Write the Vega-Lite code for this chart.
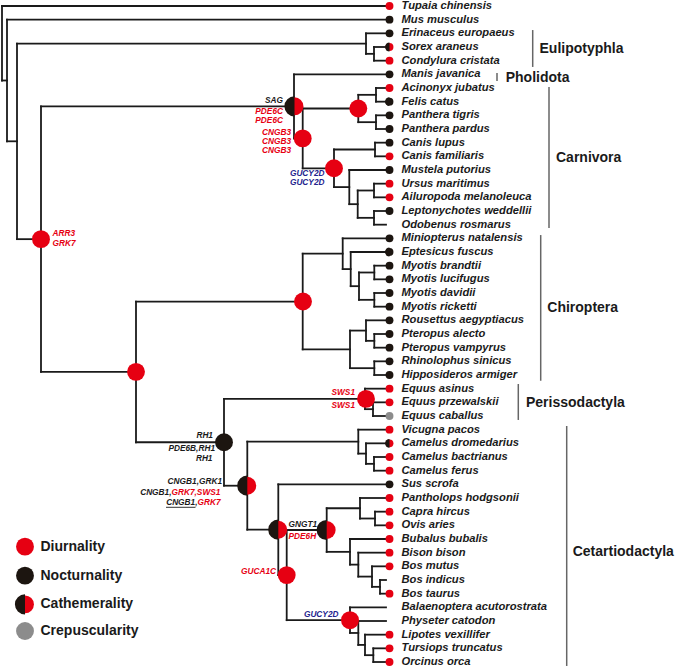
{
"$schema": "https://vega.github.io/schema/vega-lite/v6.json",
"width": 675, "height": 670, "padding": 0, "autosize": "none",
"background": "white",
"config": {"view": {"stroke": null}},
"datasets": {
"segs": [
{"x":2,"x2":2,"y":0,"y2":5.45},{"x":2,"x2":386,"y":0,"y2":0},{"x":2,"x2":7,"y":5.45,"y2":5.45},
{"x":7,"x2":7,"y":1,"y2":9.9},{"x":7,"x2":386,"y":1,"y2":1},{"x":7,"x2":17,"y":9.9,"y2":9.9},
{"x":17,"x2":17,"y":2.75,"y2":17.06},{"x":17,"x2":366,"y":2.75,"y2":2.75},{"x":17,"x2":41,"y":17.06,"y2":17.06},
{"x":366,"x2":366,"y":2,"y2":3.5},{"x":366,"x2":386,"y":2,"y2":2},{"x":366,"x2":374,"y":3.5,"y2":3.5},
{"x":374,"x2":374,"y":3,"y2":4},{"x":374,"x2":386,"y":3,"y2":3},{"x":374,"x2":386,"y":4,"y2":4},
{"x":41,"x2":41,"y":7.34,"y2":26.77},{"x":41,"x2":294,"y":7.34,"y2":7.34},{"x":41,"x2":136,"y":26.77,"y2":26.77},
{"x":294,"x2":294,"y":5,"y2":9.69},{"x":294,"x2":386,"y":5,"y2":5},{"x":294,"x2":302.7,"y":9.69,"y2":9.69},
{"x":302.7,"x2":302.7,"y":7.5,"y2":11.875},{"x":302.7,"x2":358.3,"y":7.5,"y2":7.5},{"x":302.7,"x2":334,"y":11.875,"y2":11.875},
{"x":358.3,"x2":358.3,"y":6.5,"y2":8.5},{"x":358.3,"x2":376,"y":6.5,"y2":6.5},{"x":358.3,"x2":376,"y":8.5,"y2":8.5},
{"x":376,"x2":376,"y":6,"y2":7},{"x":376,"x2":386,"y":6,"y2":6},{"x":376,"x2":386,"y":7,"y2":7},
{"x":376,"x2":376,"y":8,"y2":9},{"x":376,"x2":386,"y":8,"y2":8},{"x":376,"x2":386,"y":9,"y2":9},
{"x":334,"x2":334,"y":10.5,"y2":13.25},{"x":334,"x2":375,"y":10.5,"y2":10.5},{"x":334,"x2":349.3,"y":13.25,"y2":13.25},
{"x":375,"x2":375,"y":10,"y2":11},{"x":375,"x2":386,"y":10,"y2":10},{"x":375,"x2":386,"y":11,"y2":11},
{"x":349.3,"x2":349.3,"y":12,"y2":14.5},{"x":349.3,"x2":386,"y":12,"y2":12},{"x":349.3,"x2":357.7,"y":14.5,"y2":14.5},
{"x":357.7,"x2":357.7,"y":13.5,"y2":15.5},{"x":357.7,"x2":374,"y":13.5,"y2":13.5},{"x":357.7,"x2":374,"y":15.5,"y2":15.5},
{"x":374,"x2":374,"y":13,"y2":14},{"x":374,"x2":386,"y":13,"y2":13},{"x":374,"x2":386,"y":14,"y2":14},
{"x":374,"x2":374,"y":15,"y2":16},{"x":374,"x2":386,"y":15,"y2":15},{"x":374,"x2":386,"y":16,"y2":16},
{"x":136,"x2":136,"y":21.625,"y2":31.92},{"x":136,"x2":302.7,"y":21.625,"y2":21.625},{"x":136,"x2":224,"y":31.92,"y2":31.92},
{"x":302.7,"x2":302.7,"y":18.125,"y2":25.125},{"x":302.7,"x2":342.7,"y":18.125,"y2":18.125},{"x":302.7,"x2":350,"y":25.125,"y2":25.125},
{"x":342.7,"x2":342.7,"y":17,"y2":19.25},{"x":342.7,"x2":386,"y":17,"y2":17},{"x":342.7,"x2":350.7,"y":19.25,"y2":19.25},
{"x":350.7,"x2":350.7,"y":18,"y2":20.5},{"x":350.7,"x2":386,"y":18,"y2":18},{"x":350.7,"x2":359,"y":20.5,"y2":20.5},
{"x":359,"x2":359,"y":19.5,"y2":21.5},{"x":359,"x2":374.3,"y":19.5,"y2":19.5},{"x":359,"x2":374.3,"y":21.5,"y2":21.5},
{"x":374.3,"x2":374.3,"y":19,"y2":20},{"x":374.3,"x2":386,"y":19,"y2":19},{"x":374.3,"x2":386,"y":20,"y2":20},
{"x":374.3,"x2":374.3,"y":21,"y2":22},{"x":374.3,"x2":386,"y":21,"y2":21},{"x":374.3,"x2":386,"y":22,"y2":22},
{"x":350,"x2":350,"y":23.75,"y2":26.5},{"x":350,"x2":366,"y":23.75,"y2":23.75},{"x":350,"x2":374.3,"y":26.5,"y2":26.5},
{"x":366,"x2":366,"y":23,"y2":24.5},{"x":366,"x2":386,"y":23,"y2":23},{"x":366,"x2":374.3,"y":24.5,"y2":24.5},
{"x":374.3,"x2":374.3,"y":24,"y2":25},{"x":374.3,"x2":386,"y":24,"y2":24},{"x":374.3,"x2":386,"y":25,"y2":25},
{"x":374.3,"x2":374.3,"y":26,"y2":27},{"x":374.3,"x2":386,"y":26,"y2":26},{"x":374.3,"x2":386,"y":27,"y2":27},
{"x":224,"x2":224,"y":28.75,"y2":35.1},{"x":224,"x2":365,"y":28.75,"y2":28.75},{"x":224,"x2":247.3,"y":35.1,"y2":35.1},
{"x":365,"x2":365,"y":28,"y2":29.5},{"x":365,"x2":386,"y":28,"y2":28},{"x":365,"x2":373,"y":29.5,"y2":29.5},
{"x":373,"x2":373,"y":29,"y2":30},{"x":373,"x2":386,"y":29,"y2":29},{"x":373,"x2":386,"y":30,"y2":30},
{"x":247.3,"x2":247.3,"y":31.875,"y2":38.32},{"x":247.3,"x2":358.3,"y":31.875,"y2":31.875},{"x":247.3,"x2":278.3,"y":38.32,"y2":38.32},
{"x":358.3,"x2":358.3,"y":31,"y2":32.75},{"x":358.3,"x2":386,"y":31,"y2":31},{"x":358.3,"x2":366,"y":32.75,"y2":32.75},
{"x":366,"x2":366,"y":32,"y2":33.5},{"x":366,"x2":386,"y":32,"y2":32},{"x":366,"x2":374,"y":33.5,"y2":33.5},
{"x":374,"x2":374,"y":33,"y2":34},{"x":374,"x2":386,"y":33,"y2":33},{"x":374,"x2":386,"y":34,"y2":34},
{"x":278.3,"x2":278.3,"y":35,"y2":41.64},{"x":278.3,"x2":386,"y":35,"y2":35},{"x":278.3,"x2":286.7,"y":41.64,"y2":41.64},
{"x":286.7,"x2":286.7,"y":38.34,"y2":44.94},{"x":286.7,"x2":326.7,"y":38.34,"y2":38.34},{"x":286.7,"x2":350,"y":44.94,"y2":44.94},
{"x":326.7,"x2":326.7,"y":36.75,"y2":39.94},{"x":326.7,"x2":360,"y":36.75,"y2":36.75},{"x":326.7,"x2":350,"y":39.94,"y2":39.94},
{"x":360,"x2":360,"y":36,"y2":37.5},{"x":360,"x2":386,"y":36,"y2":36},{"x":360,"x2":375,"y":37.5,"y2":37.5},
{"x":375,"x2":375,"y":37,"y2":38},{"x":375,"x2":386,"y":37,"y2":37},{"x":375,"x2":386,"y":38,"y2":38},
{"x":350,"x2":350,"y":39,"y2":40.875},{"x":350,"x2":386,"y":39,"y2":39},{"x":350,"x2":358.3,"y":40.875,"y2":40.875},
{"x":358.3,"x2":358.3,"y":40,"y2":41.75},{"x":358.3,"x2":386,"y":40,"y2":40},{"x":358.3,"x2":372,"y":41.75,"y2":41.75},
{"x":372,"x2":372,"y":41,"y2":42.5},{"x":372,"x2":386,"y":41,"y2":41},{"x":372,"x2":380,"y":42.5,"y2":42.5},
{"x":380,"x2":380,"y":42,"y2":43},{"x":380,"x2":386,"y":42,"y2":42},{"x":380,"x2":386,"y":43,"y2":43},
{"x":350,"x2":350,"y":44,"y2":45.875},{"x":350,"x2":386,"y":44,"y2":44},{"x":350,"x2":358.3,"y":45.875,"y2":45.875},
{"x":358.3,"x2":358.3,"y":45,"y2":46.75},{"x":358.3,"x2":386,"y":45,"y2":45},{"x":358.3,"x2":365,"y":46.75,"y2":46.75},
{"x":365,"x2":365,"y":46,"y2":47.5},{"x":365,"x2":386,"y":46,"y2":46},{"x":365,"x2":373.3,"y":47.5,"y2":47.5},
{"x":373.3,"x2":373.3,"y":47,"y2":48},{"x":373.3,"x2":386,"y":47,"y2":47},{"x":373.3,"x2":386,"y":48,"y2":48}
],
"leaves": [
{"name":"Tupaia chinensis","row":0,"s":"D"},
{"name":"Mus musculus","row":1,"s":"N"},
{"name":"Erinaceus europaeus","row":2,"s":"N"},
{"name":"Sorex araneus","row":3,"s":"C"},
{"name":"Condylura cristata","row":4,"s":"C"},
{"name":"Manis javanica","row":5,"s":"N"},
{"name":"Acinonyx jubatus","row":6,"s":"D"},
{"name":"Felis catus","row":7,"s":"N"},
{"name":"Panthera tigris","row":8,"s":"N"},
{"name":"Panthera pardus","row":9,"s":"N"},
{"name":"Canis lupus","row":10,"s":"N"},
{"name":"Canis familiaris","row":11,"s":"C"},
{"name":"Mustela putorius","row":12,"s":"N"},
{"name":"Ursus maritimus","row":13,"s":"D"},
{"name":"Ailuropoda melanoleuca","row":14,"s":"C"},
{"name":"Leptonychotes weddellii","row":15,"s":"N"},
{"name":"Odobenus rosmarus","row":16,"s":"none"},
{"name":"Miniopterus natalensis","row":17,"s":"N"},
{"name":"Eptesicus fuscus","row":18,"s":"N"},
{"name":"Myotis brandtii","row":19,"s":"N"},
{"name":"Myotis lucifugus","row":20,"s":"N"},
{"name":"Myotis davidii","row":21,"s":"N"},
{"name":"Myotis ricketti","row":22,"s":"N"},
{"name":"Rousettus aegyptiacus","row":23,"s":"N"},
{"name":"Pteropus alecto","row":24,"s":"N"},
{"name":"Pteropus vampyrus","row":25,"s":"N"},
{"name":"Rhinolophus sinicus","row":26,"s":"N"},
{"name":"Hipposideros armiger","row":27,"s":"N"},
{"name":"Equus asinus","row":28,"s":"D"},
{"name":"Equus przewalskii","row":29,"s":"C"},
{"name":"Equus caballus","row":30,"s":"K"},
{"name":"Vicugna pacos","row":31,"s":"D"},
{"name":"Camelus dromedarius","row":32,"s":"D"},
{"name":"Camelus bactrianus","row":33,"s":"D"},
{"name":"Camelus ferus","row":34,"s":"D"},
{"name":"Sus scrofa","row":35,"s":"N"},
{"name":"Pantholops hodgsonii","row":36,"s":"D"},
{"name":"Capra hircus","row":37,"s":"D"},
{"name":"Ovis aries","row":38,"s":"D"},
{"name":"Bubalus bubalis","row":39,"s":"C"},
{"name":"Bison bison","row":40,"s":"D"},
{"name":"Bos mutus","row":41,"s":"D"},
{"name":"Bos indicus","row":42,"s":"none"},
{"name":"Bos taurus","row":43,"s":"D"},
{"name":"Balaenoptera acutorostrata","row":44,"s":"none"},
{"name":"Physeter catodon","row":45,"s":"none"},
{"name":"Lipotes vexillifer","row":46,"s":"D"},
{"name":"Tursiops truncatus","row":47,"s":"C"},
{"name":"Orcinus orca","row":48,"s":"D"}
],
"nodes": [
{"x":41,"y":17.06,"s":"D"},{"x":136,"y":26.77,"s":"D"},{"x":303,"y":21.625,"s":"D"},
{"x":294.5,"y":7.34,"s":"C"},{"x":358.3,"y":7.5,"s":"D"},{"x":302.7,"y":9.69,"s":"D"},
{"x":334,"y":11.875,"s":"D"},{"x":366,"y":28.75,"s":"D"},{"x":224,"y":31.92,"s":"N"},
{"x":247.3,"y":35.1,"s":"C"},{"x":278.3,"y":38.32,"s":"C"},{"x":326.7,"y":38.34,"s":"C"},
{"x":286.7,"y":41.64,"s":"D"},{"x":350,"y":44.94,"s":"D"}
],
"genes": [
{"g":"SAG","gx":283,"gy":6.93,"c":"k","a":"end"},
{"g":"PDE6C","gx":283,"gy":7.76,"c":"r","a":"end"},
{"g":"PDE6C","gx":283,"gy":8.42,"c":"r","a":"end"},
{"g":"CNGB3","gx":291,"gy":9.31,"c":"r","a":"end"},
{"g":"CNGB3","gx":291,"gy":9.96,"c":"r","a":"end"},
{"g":"CNGB3","gx":291,"gy":10.61,"c":"r","a":"end"},
{"g":"GUCY2D","gx":324.5,"gy":12.27,"c":"b","a":"end"},
{"g":"GUCY2D","gx":324.5,"gy":12.95,"c":"b","a":"end"},
{"g":"ARR3","gx":52.5,"gy":16.7,"c":"r","a":"start"},
{"g":"GRK7","gx":52.5,"gy":17.44,"c":"r","a":"start"},
{"g":"SWS1","gx":355,"gy":28.34,"c":"r","a":"end"},
{"g":"SWS1","gx":355,"gy":29.25,"c":"r","a":"end"},
{"g":"RH1","gx":213,"gy":31.46,"c":"k","a":"end"},
{"g":"PDE6B,RH1","gx":215,"gy":32.44,"c":"k","a":"end"},
{"g":"RH1","gx":212.5,"gy":33.15,"c":"k","a":"end"},
{"g":"CNGB1,GRK1","gx":222,"gy":34.81,"c":"k","a":"end"},
{"g":"CNGB1,","gx":171.5,"gy":35.61,"c":"k","a":"end"},
{"g":"GRK7,SWS1","gx":171.5,"gy":35.61,"c":"r","a":"start"},
{"g":"CNGB1,","gx":197.5,"gy":36.39,"c":"k","a":"end"},
{"g":"GRK7","gx":197.5,"gy":36.39,"c":"r","a":"start"},
{"g":"GNGT1","gx":288.5,"gy":37.97,"c":"k","a":"start"},
{"g":"PDE6H","gx":288.5,"gy":38.83,"c":"r","a":"start"},
{"g":"GUCA1C","gx":276,"gy":41.39,"c":"r","a":"end"},
{"g":"GUCY2D","gx":338.5,"gy":44.56,"c":"b","a":"end"}
],
"underline": [{"x":166,"x2":195.5,"y":36.68,"y2":36.68}],
"clades": [
{"name":"Eulipotyphla","bx":532.7,"b1":1.76,"b2":4.46,"lx":539.5,"ly":3.17},
{"name":"Pholidota","bx":497,"b1":4.9,"b2":5.49,"lx":505.7,"ly":5.25},
{"name":"Carnivora","bx":549,"b1":5.93,"b2":16.24,"lx":556,"ly":11.12},
{"name":"Chiroptera","bx":540.7,"b1":16.76,"b2":27.42,"lx":547.3,"ly":22.12},
{"name":"Perissodactyla","bx":518.3,"b1":27.66,"b2":30.29,"lx":526,"ly":29.07},
{"name":"Cetartiodactyla","bx":566.7,"b1":30.73,"b2":48.29,"lx":572.7,"ly":39.93}
],
"legend": [
{"t":"Diurnality","ly":39.56,"s":"D"},
{"t":"Nocturnality","ly":41.68,"s":"N"},
{"t":"Cathemerality","ly":43.78,"s":"C"},
{"t":"Crepuscularity","ly":45.73,"s":"K"}
]
},
"layer": [
{
"data": {"name": "segs"},
"mark": {"type": "rule", "strokeWidth": 1.8, "color": "#1a1a1a", "strokeCap": "square"},
"encoding": {
"x": {"field": "x", "type": "quantitative", "scale": {"domain": [0, 675], "range": [0, 675], "nice": false, "zero": false}, "axis": null},
"x2": {"field": "x2"},
"y": {"field": "y", "type": "quantitative", "scale": {"domain": [-0.439, 48.585], "range": [0, 670], "nice": false, "zero": false}, "axis": null},
"y2": {"field": "y2"}
}
},
{
"data": {"name": "underline"},
"mark": {"type": "rule", "strokeWidth": 0.9, "color": "#1a1a1a"},
"encoding": {
"x": {"field": "x", "type": "quantitative", "axis": null},
"x2": {"field": "x2"},
"y": {"field": "y", "type": "quantitative", "axis": null},
"y2": {"field": "y2"}
}
},
{
"data": {"name": "clades"},
"mark": {"type": "rule", "strokeWidth": 1.5, "color": "#666666"},
"encoding": {
"x": {"field": "bx", "type": "quantitative", "axis": null},
"y": {"field": "b1", "type": "quantitative", "axis": null},
"y2": {"field": "b2"}
}
},
{
"data": {"name": "clades"},
"mark": {"type": "text", "align": "left", "baseline": "middle", "font": "Liberation Sans", "fontSize": 14, "fontWeight": "bold", "color": "#1a1a1a"},
"encoding": {
"x": {"field": "lx", "type": "quantitative", "axis": null},
"y": {"field": "ly", "type": "quantitative", "axis": null},
"text": {"field": "name"}
}
},
{
"data": {"name": "leaves"},
"transform": [{"filter": "datum.s !== 'none'"}],
"mark": {"type": "point", "filled": true, "opacity": 1, "size": 62, "shape": "circle", "strokeWidth": 0},
"encoding": {
"x": {"datum": 389.5, "type": "quantitative", "axis": null},
"y": {"field": "row", "type": "quantitative", "axis": null},
"color": {"field": "s", "type": "nominal", "legend": null,
  "scale": {"domain": ["D","N","C","K","r","k","b"], "range": ["#E60012","#1c1510","#E60012","#8c8c8c","#E60012","#1a1a1a","#23238e"]}}
}
},
{
"data": {"name": "leaves"},
"transform": [{"filter": "datum.s === 'C'"}],
"mark": {"type": "arc", "theta": 3.14159, "theta2": 6.28319, "outerRadius": 4.45, "innerRadius": 0, "color": "#1c1510"},
"encoding": {
"x": {"datum": 389.5, "type": "quantitative", "axis": null},
"y": {"field": "row", "type": "quantitative", "axis": null}
}
},
{
"data": {"name": "nodes"},
"mark": {"type": "point", "filled": true, "opacity": 1, "size": 320, "shape": "circle", "strokeWidth": 0},
"encoding": {
"x": {"field": "x", "type": "quantitative", "axis": null},
"y": {"field": "y", "type": "quantitative", "axis": null},
"color": {"field": "s", "type": "nominal", "legend": null}
}
},
{
"data": {"name": "nodes"},
"transform": [{"filter": "datum.s === 'C'"}],
"mark": {"type": "arc", "theta": 3.14159, "theta2": 6.28319, "outerRadius": 10.1, "innerRadius": 0, "color": "#1c1510"},
"encoding": {
"x": {"field": "x", "type": "quantitative", "axis": null},
"y": {"field": "y", "type": "quantitative", "axis": null}
}
},
{
"data": {"name": "legend"},
"mark": {"type": "point", "filled": true, "opacity": 1, "size": 320, "shape": "circle", "strokeWidth": 0},
"encoding": {
"x": {"datum": 25, "type": "quantitative", "axis": null},
"y": {"field": "ly", "type": "quantitative", "axis": null},
"color": {"field": "s", "type": "nominal", "legend": null}
}
},
{
"data": {"name": "legend"},
"transform": [{"filter": "datum.s === 'C'"}],
"mark": {"type": "arc", "theta": 3.14159, "theta2": 6.28319, "outerRadius": 10.1, "innerRadius": 0, "color": "#1c1510"},
"encoding": {
"x": {"datum": 25, "type": "quantitative", "axis": null},
"y": {"field": "ly", "type": "quantitative", "axis": null}
}
},
{
"data": {"name": "legend"},
"mark": {"type": "text", "align": "left", "baseline": "middle", "font": "Liberation Sans", "fontSize": 14, "fontWeight": "bold", "color": "#1a1a1a"},
"encoding": {
"x": {"datum": 40.5, "type": "quantitative", "axis": null},
"y": {"field": "ly", "type": "quantitative", "axis": null},
"text": {"field": "t"}
}
},
{
"data": {"name": "leaves"},
"mark": {"type": "text", "align": "left", "baseline": "middle", "font": "Liberation Sans", "fontSize": 11.2, "fontWeight": "bold", "fontStyle": "italic", "color": "#1a1a1a"},
"encoding": {
"x": {"datum": 401.5, "type": "quantitative", "axis": null},
"y": {"field": "row", "type": "quantitative", "axis": null},
"text": {"field": "name"}
}
},
{
"data": {"name": "genes"},
"transform": [{"filter": "datum.a === 'end'"}],
"mark": {"type": "text", "align": "right", "baseline": "middle", "font": "Liberation Sans", "fontSize": 8.3, "fontWeight": "bold", "fontStyle": "italic"},
"encoding": {
"x": {"field": "gx", "type": "quantitative", "axis": null},
"y": {"field": "gy", "type": "quantitative", "axis": null},
"text": {"field": "g"},
"color": {"field": "c", "type": "nominal", "legend": null}
}
},
{
"data": {"name": "genes"},
"transform": [{"filter": "datum.a === 'start'"}],
"mark": {"type": "text", "align": "left", "baseline": "middle", "font": "Liberation Sans", "fontSize": 8.3, "fontWeight": "bold", "fontStyle": "italic"},
"encoding": {
"x": {"field": "gx", "type": "quantitative", "axis": null},
"y": {"field": "gy", "type": "quantitative", "axis": null},
"text": {"field": "g"},
"color": {"field": "c", "type": "nominal", "legend": null}
}
}
]
}
